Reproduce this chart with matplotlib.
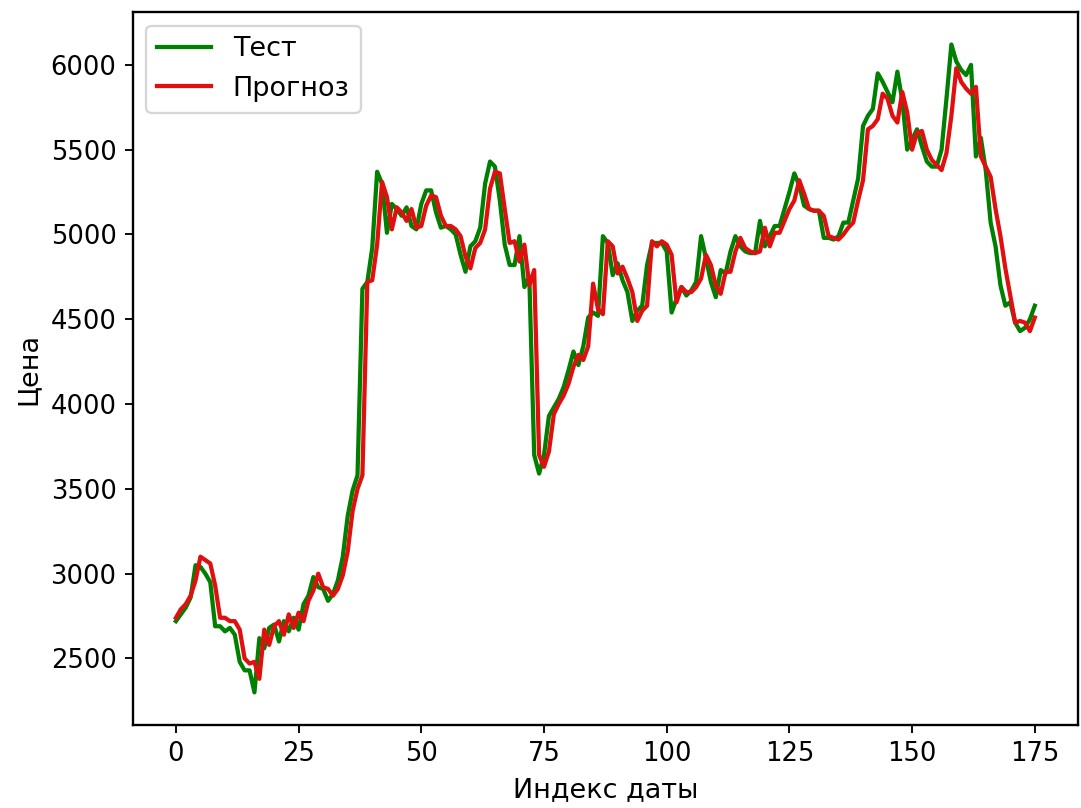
"""Test vs forecast price curves."""
import matplotlib
matplotlib.use("Agg")
import matplotlib.pyplot as plt

# Тест (actual prices), date index 0..175
test = [
    2720, 2760, 2800, 2860, 3050, 3040, 3000, 2950, 2690, 2690,
    2660, 2680, 2640, 2480, 2430, 2430, 2300, 2620, 2560, 2680,
    2700, 2600, 2720, 2660, 2740, 2670, 2820, 2870, 2980, 2920,
    2910, 2840, 2880, 2960, 3100, 3340, 3490, 3580, 4680, 4720,
    4920, 5370, 5300, 5010, 5180, 5150, 5110, 5160, 5050, 5030,
    5180, 5260, 5260, 5130, 5040, 5050, 5030, 5000, 4880, 4780,
    4930, 4960, 5040, 5300, 5430, 5400, 5200, 4940, 4820, 4820,
    4990, 4690, 4750, 3700, 3590, 3700, 3930, 3980, 4030, 4100,
    4200, 4310, 4230, 4340, 4510, 4540, 4520, 4990, 4950, 4760,
    4830, 4730, 4660, 4490, 4550, 4580, 4820, 4950, 4950, 4950,
    4900, 4540, 4620, 4690, 4640, 4670, 4720, 4990, 4860, 4720,
    4630, 4790, 4770, 4900, 4990, 4930, 4900, 4890, 4890, 5080,
    4930, 4990, 5050, 5050, 5150, 5250, 5360, 5290, 5170, 5150,
    5140, 5140, 4980, 4980, 4970, 4990, 5070, 5070, 5200, 5330,
    5640, 5700, 5740, 5950, 5900, 5840, 5780, 5960, 5790, 5500,
    5560, 5620, 5520, 5430, 5400, 5400, 5500, 5800, 6120, 6020,
    5970, 5940, 6000, 5460, 5570, 5380, 5070, 4930, 4700, 4580,
    4600, 4480, 4430, 4450, 4500, 4580,
]

# Прогноз (model forecast)
forecast = [
    2740, 2790, 2820, 2870, 2960, 3100, 3080, 3060, 2930, 2740,
    2740, 2720, 2720, 2670, 2500, 2470, 2480, 2380, 2670, 2580,
    2690, 2720, 2640, 2760, 2680, 2770, 2720, 2840, 2900, 3000,
    2920, 2910, 2870, 2910, 2990, 3130, 3370, 3500, 3580, 4720,
    4730, 4940, 5310, 5220, 5030, 5160, 5130, 5080, 5150, 5040,
    5050, 5170, 5230, 5220, 5110, 5050, 5050, 5030, 4990, 4870,
    4800, 4920, 4950, 5030, 5270, 5370, 5360, 5150, 4950, 4960,
    4840, 4940, 4700, 4790, 3700, 3630, 3720, 3940, 4000, 4050,
    4120, 4220, 4290, 4260, 4340, 4710, 4560, 4530, 4960, 4930,
    4770, 4810, 4740, 4660, 4490, 4550, 4580, 4960, 4930, 4960,
    4940, 4880, 4600, 4690, 4660, 4660, 4690, 4740, 4880, 4820,
    4700, 4650, 4780, 4780, 4900, 4980, 4920, 4900, 4890, 4900,
    5040, 4930, 5010, 5010, 5080, 5150, 5200, 5320, 5240, 5150,
    5140, 5140, 5110, 4990, 4980, 4970, 5000, 5040, 5070, 5200,
    5320, 5620, 5640, 5680, 5830, 5800, 5700, 5660, 5840, 5720,
    5500, 5600, 5610, 5500, 5440, 5410, 5380, 5480, 5700, 5980,
    5900, 5860, 5830, 5870, 5460, 5400, 5340, 5150, 4990, 4800,
    4640, 4480, 4490, 4480, 4430, 4510,
]

dates = list(range(len(test)))

plt.rcParams["font.size"] = 11.5
plt.rcParams["xtick.labelsize"] = 11
plt.rcParams["ytick.labelsize"] = 11

DPI = 169
fig, ax = plt.subplots(figsize=(1081 / DPI, 808 / DPI), dpi=DPI)
fig.subplots_adjust(left=0.123, right=0.997, top=0.985, bottom=0.103)

ax.plot(dates, test, color="green", linewidth=1.8, label="Тест")
ax.plot(dates, forecast, color="#e01010", linewidth=1.8, label="Прогноз")

ax.set_xlabel("Индекс даты")
ax.set_ylabel("Цена")
ax.legend(loc="upper left")
for spine in ax.spines.values():
    spine.set_linewidth(1.0)

fig.savefig("out.png", dpi=DPI)
